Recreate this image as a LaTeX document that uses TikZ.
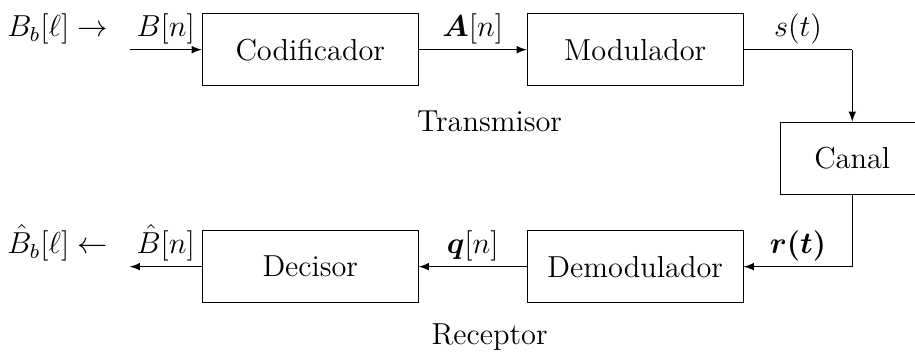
\documentclass[tikz,border=0pt,12pt]{standalone}
\usepackage{amsmath}
\usepackage{tikz}
\usetikzlibrary{positioning, calc, arrows}

\begin{document}
\begin{tikzpicture}[
    bloque/.style={draw, minimum width=3cm, minimum height=1cm},
    etiqueta/.style={above, inner sep=2pt},
    flecha/.style={-latex}]
  \useasboundingbox (0,0) rectangle (12.71,-4.89);

  % Transmisor
  \node[bloque] (cod) at (4.31,-0.69) {Codificador};
  \node[bloque, right=1.5cm of cod] (mod) {Modulador};
  \node[anchor=base] (tx) at (6.8,-1.83) {Transmisor};

  % Receptor
  \node[bloque, below=2cm of cod] (dec) {Decisor};
  \node[bloque, below=2cm of mod] (dem) {Demodulador};
  \node[anchor=base] (rx) at (6.8,-4.79) {Receptor};

  % Canal
  \coordinate (medio) at ($(mod.east)!0.5!(dem.east)$);
  \node[bloque, minimum width=2cm, right=0.5cm of medio] (canal) {Canal};

  \coordinate (ent) at ($(cod.west)+(-1,0)$);
  \coordinate (sal) at ($(dec.west)+(-1,0)$);
  \coordinate (esq1) at (mod.east -| canal.north);
  \coordinate (esq2) at (dem.east -| canal.south);

  \draw[flecha] (ent) -- node[etiqueta] (bn) {$B[n]$} (cod);
  \node[base left=0.17cm of bn] (bl) {$B_b[\ell] \rightarrow$};
  \draw[flecha] (cod) -- node[etiqueta] (an) {$\boldsymbol{A}[n]$} (mod);
  \draw (mod) -- node[etiqueta] (st) {$s(t)$} (esq1);
  \draw[flecha] (esq1) -- (canal);

  \draw (canal) -- (esq2);
  \draw[flecha] (esq2) -- node[etiqueta] (rt) {$\boldsymbol{r(t)}$} (dem);
  \draw[flecha] (dem) -- node[etiqueta] (qn) {$\boldsymbol{q}[n]$} (dec);
  \draw[flecha] (dec) -- node[etiqueta] (bsn) {$\hat{B}[n]$} (sal);
  \node[base left=0.17cm of bsn] (bsl) {$\hat{B}_b[\ell] \leftarrow$};
\end{tikzpicture}
\end{document}
